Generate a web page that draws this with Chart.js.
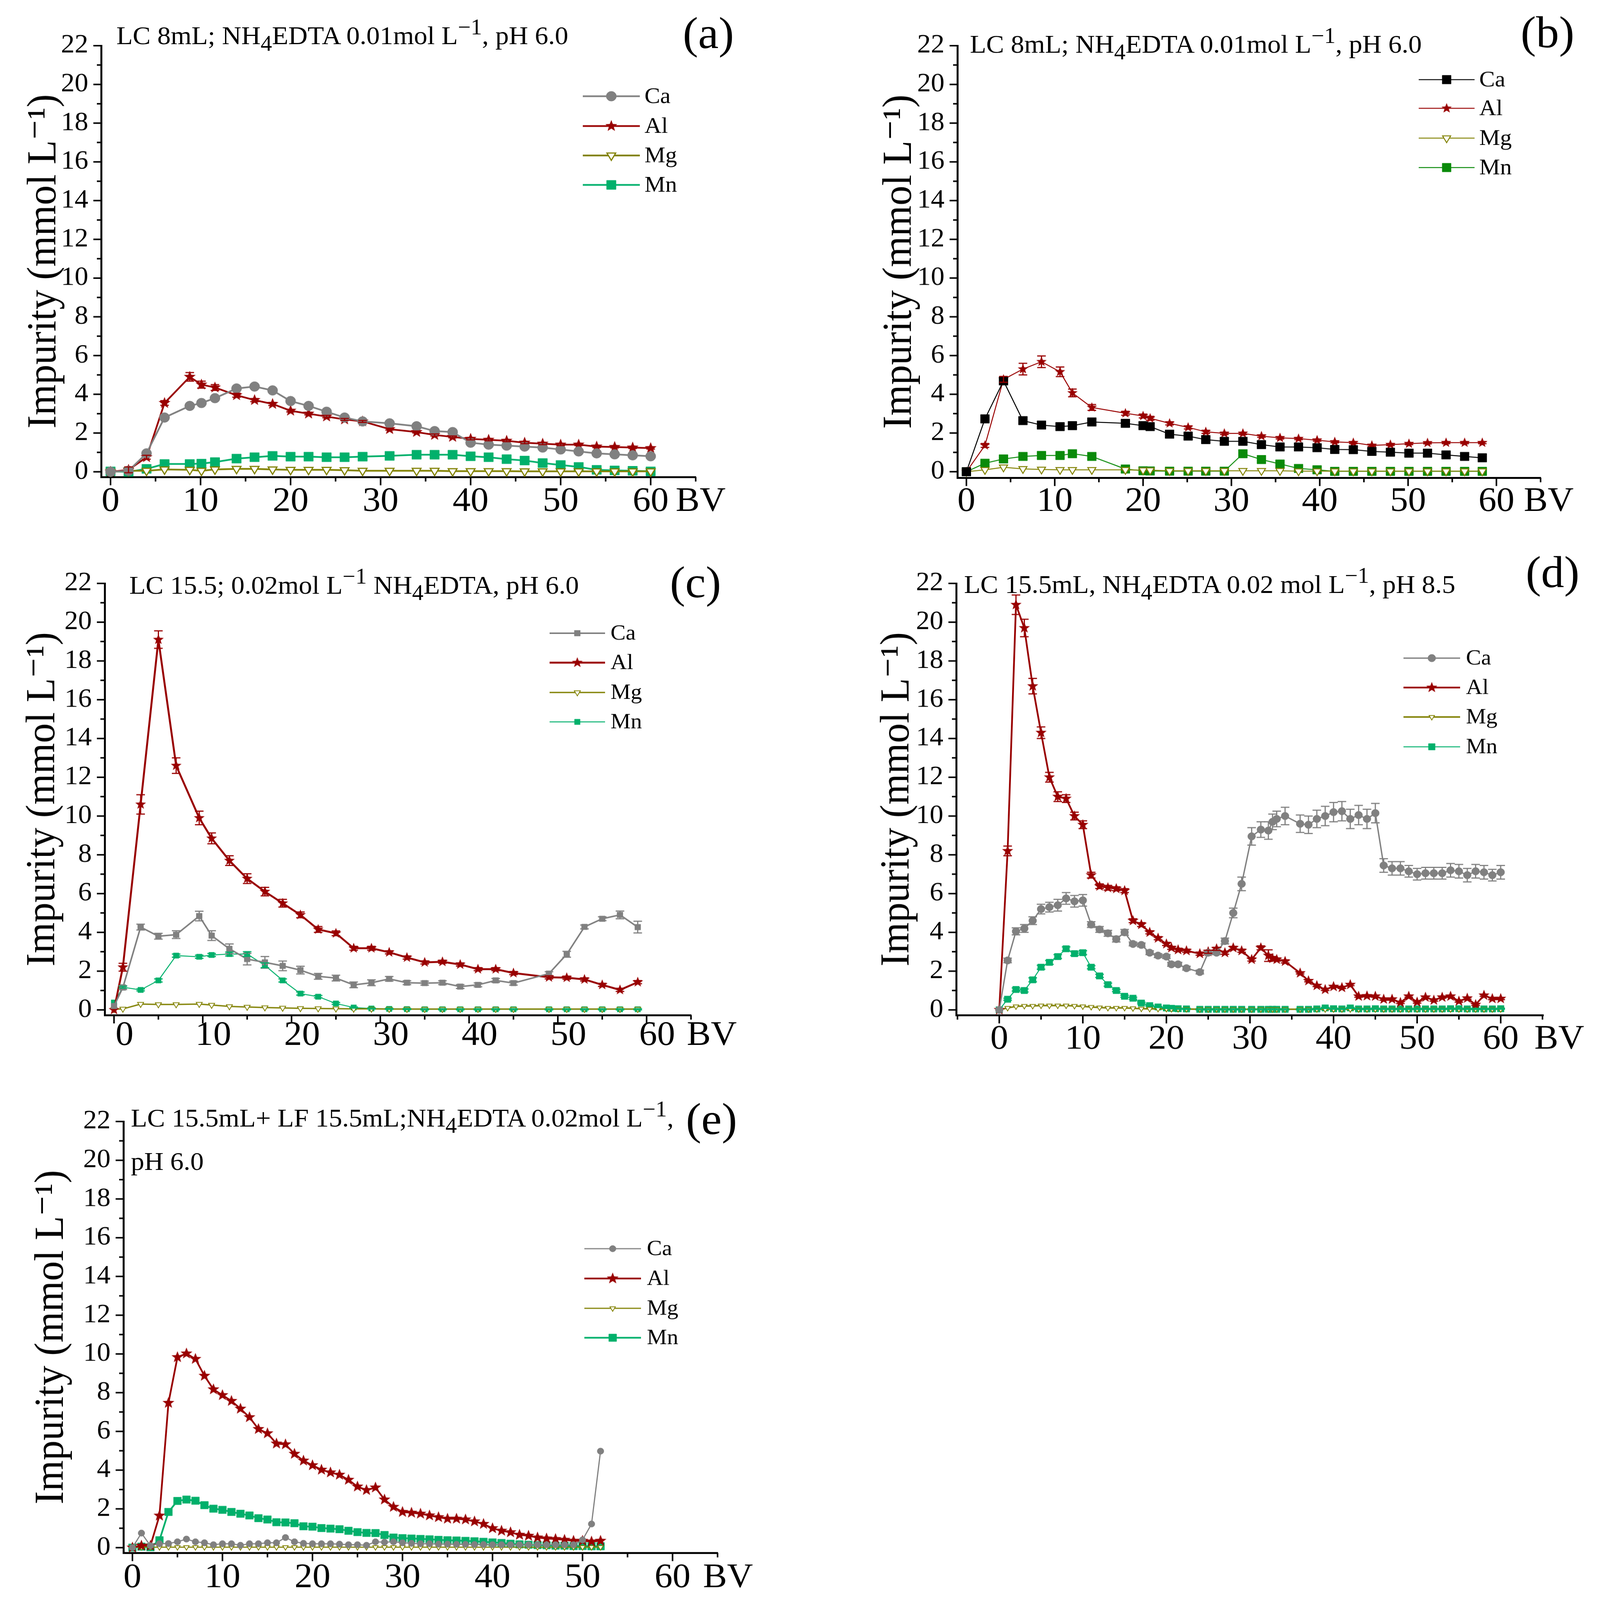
<!DOCTYPE html>
<html><head><meta charset="utf-8">
<script src="https://cdn.jsdelivr.net/npm/chart.js@4.4.1/dist/chart.umd.min.js"></script>
<style>
html,body{margin:0;padding:0;background:#fff;overflow:hidden;}
#root{width:4091px;height:4240px;position:absolute;left:0;top:0;transform-origin:0 0;font-family:'Liberation Serif','DejaVu Serif',serif;background:#fff;}
.panel{position:absolute;}
.ttl{position:absolute;white-space:nowrap;color:#000;line-height:normal;font-family:'Liberation Serif','DejaVu Serif',serif;}
.ttl sub{font-size:0.85em;line-height:0;vertical-align:-0.3em;}
.ttl sup{font-size:0.85em;line-height:0;vertical-align:0.45em;}
</style></head><body>
<div id="root">
<div class="ttl" style="left:298px;top:55px;font-size:68.5px">LC 8mL; NH<sub>4</sub>EDTA 0.01mol L<sup>−1</sup>, pH 6.0</div>
<div class="ttl" style="left:1748px;top:20px;font-size:118px">(a)</div>
<div class="ttl" style="left:2483px;top:78px;font-size:68.5px">LC 8mL; NH<sub>4</sub>EDTA 0.01mol L<sup>−1</sup>, pH 6.0</div>
<div class="ttl" style="left:3893px;top:18px;font-size:118px">(b)</div>
<div class="ttl" style="left:331px;top:1511px;font-size:68.5px">LC 15.5; 0.02mol L<sup>−1</sup> NH<sub>4</sub>EDTA, pH 6.0</div>
<div class="ttl" style="left:1715px;top:1476px;font-size:118px">(c)</div>
<div class="ttl" style="left:2468px;top:1509px;font-size:68.5px">LC 15.5mL, NH<sub>4</sub>EDTA 0.02 mol L<sup>−1</sup>, pH 8.5</div>
<div class="ttl" style="left:3906px;top:1449px;font-size:118px">(d)</div>
<div class="ttl" style="left:335px;top:2923px;font-size:68.5px">LC 15.5mL+ LF 15.5mL;NH<sub>4</sub>EDTA 0.02mol L<sup>−1</sup>,</div>
<div class="ttl" style="left:335px;top:3038px;font-size:68.5px">pH 6.0</div>
<div class="ttl" style="left:1756px;top:2898px;font-size:118px">(e)</div>
</div>
<script>
// ---------------- DATA ----------------
const ELEMENTS = ['Ca', 'Al', 'Mg', 'Mn'];
const Y_TICKS_MAX = 22;
const X_TICK_MAX = 60;

// Panel (a)
const aX  = [0,2,4,6,8.8,10.1,11.6,14,16,18,20,22,24,26,28,31,34,36,38,40,42,44,46,48,50,52,54,56,58,60];
const aCa = [0,0.05,0.95,2.8,3.4,3.55,3.8,4.3,4.4,4.2,3.65,3.4,3.1,2.8,2.6,2.5,2.35,2.1,2.05,1.5,1.4,1.35,1.3,1.25,1.15,1.05,0.95,0.9,0.85,0.8];
const aAl = [0,0.1,0.75,3.55,4.9,4.5,4.35,3.95,3.7,3.5,3.15,3.0,2.85,2.7,2.6,2.2,2.05,1.9,1.8,1.7,1.65,1.6,1.5,1.45,1.4,1.4,1.3,1.28,1.25,1.22];
const aMg = [0,0.05,0.05,0.12,0.1,0.05,0.12,0.15,0.15,0.12,0.1,0.1,0.1,0.08,0.05,0.05,0.05,0.05,0.03,0.03,0.03,0.03,0.02,0.02,0.02,0.02,0.02,0.02,0.02,0.02];
const aMn = [0.02,0,0.15,0.4,0.4,0.42,0.5,0.68,0.75,0.82,0.78,0.78,0.75,0.75,0.78,0.82,0.88,0.88,0.88,0.8,0.75,0.65,0.58,0.45,0.35,0.25,0.1,0.07,0.05,0.02];
const aAlErr = [0,0.15,0.1,0.12,0.22,0.18,0.15,0.1,0.08,0.08,0.06,0.06,0.06,0.05,0.05,0.05,0.05,0.05,0.05,0.05,0.05,0.05,0.05,0.05,0.05,0.05,0.05,0.05,0.05,0.05];

// Panel (b)
const bX  = [0,2.1,4.2,6.4,8.5,10.6,12,14.2,18,20,20.8,23,25.1,27.1,29.2,31.3,33.4,35.5,37.6,39.7,41.7,43.8,45.9,48,50.1,52.2,54.3,56.4,58.4];
const bCa = [0,2.73,4.69,2.64,2.41,2.33,2.38,2.57,2.5,2.38,2.33,1.94,1.84,1.66,1.57,1.57,1.4,1.28,1.28,1.24,1.15,1.14,1.05,1.01,0.96,0.96,0.87,0.79,0.72];
const bAl = [0,1.36,4.77,5.3,5.68,5.16,4.07,3.32,3.02,2.88,2.76,2.5,2.29,2.06,1.98,1.98,1.84,1.75,1.71,1.63,1.54,1.5,1.36,1.4,1.45,1.49,1.5,1.5,1.5];
const bMg = [0,0.1,0.23,0.15,0.12,0.1,0.1,0.1,0.1,0.08,0.08,0.05,0.05,0.05,0.05,0.05,0.05,0.05,0.03,0.03,0.03,0.03,0.03,0.03,0.03,0.03,0.03,0.03,0.03];
const bMn = [0,0.44,0.66,0.79,0.84,0.84,0.93,0.79,0.14,0.05,0.04,0.03,0.03,0.03,0.03,0.93,0.63,0.4,0.17,0.1,0.02,0.02,0.02,0.02,0.02,0.02,0.02,0.02,0.02];
const bAlErr = [0,0.1,0.15,0.3,0.3,0.25,0.2,0.15,0.1,0.1,0.1,0.08,0.08,0.08,0.06,0.06,0.06,0.06,0.05,0.05,0.05,0.05,0.05,0.05,0.05,0.05,0.05,0.05,0.05];

// Panel (c)
const cX  = [0,1,3,5,7,9.6,11,13,15,17,19,21,23,25,27,29,31,33,35,37,39,41,43,45,49,51,53,55,57,59];
const cCa = [0.2,1.15,4.27,3.8,3.88,4.84,3.83,3.15,2.62,2.45,2.27,2.05,1.73,1.64,1.29,1.4,1.6,1.4,1.38,1.4,1.2,1.29,1.52,1.38,1.87,2.87,4.28,4.7,4.9,4.27];
const cAl = [0,2.2,10.6,19.1,12.6,9.9,8.85,7.7,6.77,6.1,5.5,4.9,4.15,3.95,3.18,3.18,2.97,2.7,2.45,2.48,2.34,2.1,2.1,1.9,1.68,1.66,1.57,1.29,1.03,1.43];
const cMg = [0.03,0.05,0.3,0.28,0.28,0.3,0.25,0.18,0.15,0.12,0.1,0.08,0.07,0.06,0.05,0.05,0.04,0.04,0.04,0.04,0.04,0.04,0.04,0.04,0.04,0.04,0.04,0.04,0.04,0.04];
const cMn = [0.38,1.17,1.03,1.52,2.8,2.74,2.83,2.88,2.88,2.3,1.52,0.84,0.68,0.33,0.12,0.07,0.05,0.04,0.03,0.03,0.03,0.03,0.03,0.03,0.03,0.03,0.03,0.03,0.03,0.03];
const cCaErr = [0,0.1,0.15,0.15,0.2,0.25,0.25,0.25,0.3,0.3,0.25,0.2,0.15,0.15,0.15,0.15,0.12,0.1,0.1,0.1,0.1,0.1,0.1,0.1,0.1,0.15,0.1,0.1,0.2,0.3];
const cAlErr = [0,0.2,0.5,0.45,0.4,0.35,0.28,0.25,0.25,0.22,0.2,0.15,0.15,0.12,0.1,0.1,0.08,0.08,0.08,0.08,0.08,0.08,0.08,0.08,0.08,0.08,0.08,0.08,0.08,0.08];
const cMnErr = [0,0.05,0.05,0.08,0.08,0.08,0.08,0.1,0.12,0.12,0.08,0.08,0.06,0.05,0.03,0.03,0.03,0.03,0.03,0.03,0.03,0.03,0.03,0.03,0.03,0.03,0.03,0.03,0.03,0.03];

// Panel (d)
const dX  = [0,1,2,3,4,5,6,7,8,9,10,11,12,13,14,15,16,17,18,19,20,20.6,21.4,22.4,24,25,26,27,28,29,30.2,31.3,32.2,32.7,33.2,34.2,36,37,38,39,40,41,42,43,44,45,46,47,48,49,50,51,52,53,54,55,56,57,58,59,60];
const dCa = [0,2.55,4.05,4.2,4.6,5.2,5.3,5.4,5.75,5.6,5.65, 4.4,4.15,3.95,3.65,4.0,3.4,3.35,2.95,2.8,2.75, 2.35,2.35,2.15, 1.95,2.95,2.95,3.55,5.0,6.5, 8.95,9.3,9.25,9.7,9.85,10.0, 9.6,9.55,9.85,10.0,10.2,10.25,9.85,10.05,9.85,10.15, 7.45,7.3,7.3,7.15,7.0,7.05,7.05,7.05,7.2,7.15,6.95,7.15,7.1,6.95,7.1];
const dAl = [0,8.2,20.9,19.7,16.7,14.3,12.0,11.0,10.9,10.0,9.55, 6.95,6.38,6.3,6.25,6.15,4.6,4.4,4.0,3.7,3.4, 3.2,3.1,3.05, 2.9,3.0,3.15,2.95,3.2,3.05, 2.6,3.2,2.8,2.65,2.6,2.5, 1.9,1.5,1.25,1.05,1.2,1.15,1.3,0.7,0.72,0.7,0.55,0.55,0.38,0.7,0.4,0.65,0.5,0.65,0.7,0.45,0.6,0.27,0.75,0.58,0.58];
const dMg = [0,0.1,0.18,0.2,0.2,0.22,0.22,0.22,0.22,0.2,0.18, 0.15,0.12,0.1,0.1,0.1,0.08,0.06,0.05,0.05,0.05, 0.04,0.04,0.04, 0.03,0.03,0.03,0.03,0.03,0.03, 0.03,0.03,0.03,0.03,0.03,0.03, 0.03,0.03,0.03,0.03,0.03,0.03,0.03,0.03,0.03,0.03,0.03,0.03,0.03,0.03,0.03,0.03,0.03,0.03,0.03,0.03,0.03,0.03,0.03,0.03,0.03];
const dMn = [0,0.55,1.05,1.0,1.55,2.2,2.45,2.75,3.15,2.9,2.95, 2.2,1.75,1.3,1.0,0.7,0.6,0.35,0.22,0.15,0.1, 0.08,0.06,0.05, 0.03,0.03,0.03,0.03,0.03,0.03, 0.03,0.03,0.03,0.03,0.03,0.03, 0.03,0.03,0.05,0.1,0.06,0.05,0.1,0.05,0.05,0.06,0.05,0.05,0.05,0.05,0.05,0.05,0.05,0.05,0.06,0.06,0.05,0.05,0.05,0.05,0.06];
const dCaErr = [0,0.12,0.18,0.2,0.2,0.25,0.25,0.3,0.3,0.3,0.3, 0.15,0.15,0.15,0.15,0.15,0.1,0.1,0.1,0.1,0.1, 0.1,0.1,0.1, 0.1,0.1,0.1,0.15,0.25,0.35, 0.45,0.4,0.45,0.4,0.4,0.45, 0.45,0.45,0.45,0.5,0.5,0.5,0.5,0.5,0.5,0.5, 0.35,0.35,0.35,0.3,0.3,0.3,0.3,0.3,0.35,0.35,0.35,0.35,0.35,0.3,0.35];
const dAlErr = [0,0.25,0.5,0.45,0.4,0.3,0.25,0.25,0.2,0.2,0.2, 0.15,0.12,0.12,0.1,0.1,0.1,0.1,0.08,0.08,0.08, 0.08,0.08,0.08, 0.08,0.08,0.08,0.08,0.08,0.08, 0.08,0.1,0.3,0.1,0.08,0.08, 0.05,0.05,0.05,0.05,0.05,0.05,0.05,0.05,0.05,0.05,0.05,0.05,0.05,0.05,0.05,0.05,0.05,0.05,0.05,0.05,0.05,0.05,0.05,0.05,0.05];
const dMnErr = [0,0.05,0.08,0.08,0.1,0.1,0.1,0.1,0.1,0.1,0.1, 0.08,0.08,0.08,0.06,0.05,0.05,0.04,0.03,0.03,0.03, 0.03,0.03,0.03, 0.03,0.03,0.03,0.03,0.03,0.03, 0.03,0.03,0.03,0.03,0.03,0.03, 0.03,0.03,0.03,0.03,0.03,0.03,0.03,0.03,0.03,0.03,0.03,0.03,0.03,0.03,0.03,0.03,0.03,0.03,0.03,0.03,0.03,0.03,0.03,0.03,0.03];

// Panel (e)
const eX  = [0,1,2,3,4,5,6,7,8,9,10,11,12,13,14,15,16,17,18,19,20,21,22,23,24,25,26,27,28,29,30,31,32,33,34,35,36,37,38,39,40,41,42,43,44,45,46,47,48,49,50,51,52];
const eCa = [0,0.75,0.1,0.2,0.21,0.3,0.44,0.3,0.25,0.15, 0.2,0.2,0.12,0.2,0.2,0.25,0.25,0.52,0.3,0.22, 0.2,0.2,0.2,0.18,0.15,0.15,0.12,0.3,0.28,0.3, 0.25,0.22,0.2,0.2,0.18,0.18,0.17,0.17,0.16,0.16, 0.15,0.15,0.15,0.15,0.15,0.15,0.15,0.15,0.15,0.15, 0.4,1.22,4.98];
const eAl = [0,0.1,0.1,1.65,7.47,9.83,10.02,9.74,8.87,8.17, 7.87,7.57,7.17,6.73,6.12,5.9,5.37,5.33,4.84,4.49, 4.25,4.02,3.88,3.76,3.5,3.15,2.97,3.1,2.48,2.1, 1.84,1.8,1.75,1.66,1.57,1.49,1.49,1.45,1.35,1.22, 1.0,0.87,0.79,0.66,0.61,0.52,0.47,0.44,0.4,0.35, 0.35,0.31,0.35];
const eMg = [0.02,0.02,0.02,0.02,0.02,0.02,0.02,0.02,0.02,0.02, 0.02,0.02,0.02,0.02,0.02,0.02,0.02,0.02,0.02,0.02, 0.02,0.02,0.02,0.02,0.02,0.02,0.02,0.02,0.02,0.02, 0.02,0.02,0.02,0.02,0.02,0.02,0.02,0.02,0.02,0.02, 0.02,0.02,0.02,0.02,0.02,0.02,0.02,0.02,0.02,0.02, 0.02,0.02,0.02];
const eMn = [0,0.05,0.02,0.38,1.84,2.41,2.48,2.42,2.19,2.01, 1.95,1.84,1.75,1.66,1.52,1.45,1.31,1.3,1.26,1.1, 1.08,1.01,0.98,0.95,0.87,0.8,0.76,0.75,0.65,0.52, 0.49,0.47,0.45,0.43,0.4,0.38,0.37,0.35,0.33,0.3, 0.27,0.24,0.2,0.17,0.15,0.13,0.12,0.1,0.1,0.08, 0.08,0.07,0.07];

// ---------------- PAGE SCALE (fit the 4091x4240 layout into the actual viewport) ----------------
const PAGE_W = 4091, PAGE_H = 4240;
const root = document.getElementById('root');
const kx = (window.innerWidth || PAGE_W) / PAGE_W, ky = (window.innerHeight || PAGE_H) / PAGE_H;
root.style.transform = `scale(${kx}, ${ky})`;

// ---------------- STYLE ----------------
const FONT = "'Liberation Serif', 'DejaVu Serif', serif";
const C_GRAY = '#808080', C_BLACK = '#000000', C_RED = '#990000', C_OLIVE = '#808000', C_MN = '#00B06B', C_MN_B = '#0A8A0A';

function starImage(color, r) {
  const c = document.createElement('canvas');
  const s = Math.ceil(2 * r + 4);
  c.width = s; c.height = s;
  const g = c.getContext('2d');
  g.fillStyle = color;
  g.beginPath();
  for (let k = 0; k < 10; k++) {
    const rr = k % 2 === 0 ? r : r * 0.42;
    const ang = -Math.PI / 2 + k * Math.PI / 5;
    const px = s / 2 + rr * Math.cos(ang), py = s / 2 + rr * Math.sin(ang);
    if (k === 0) g.moveTo(px, py); else g.lineTo(px, py);
  }
  g.closePath(); g.fill();
  return c;
}

const panels = [
  { id: 'a', left: 0, top: 0, w: 2045, h: 1400, pad: {left: 0, top: 121, right: 264, bottom: 0}, yw: 259, xh: 136,
    xmin: -1.04, xmax: 65, ymin: -0.27, xpad: 11, labelOffset: 0, ytPad: 51, bvOff: 64,
    legend: {x0: 1492, x1: 1638, tx: 1650, rows: [255, 334, 412, 490], size: 60},
    x: aX, series: [aCa, aAl, aMg, aMn], errs: [null, aAlErr, null, null],
    styles: [{color: C_GRAY, lw: 4.5, ps: 'circle', r: 13}, {color: C_RED, lw: 4.5, star: 16},
             {color: C_OLIVE, lw: 4.5, ps: 'triangle', r: 13, rot: 180, fill: '#ffffff', pbw: 3}, {color: C_MN, lw: 4.5, ps: 'rect', r: 17}] },
  { id: 'b', left: 2100, top: 0, w: 1991, h: 1400, pad: {left: 0, top: 121, right: 147, bottom: 0}, yw: 351, xh: 134,
    xmin: -1.02, xmax: 65, ymin: -0.31, xpad: 9, labelOffset: 0, ytPad: 141, bvOff: 70,
    legend: {x0: 3632, x1: 3775, tx: 3787, rows: [211, 287, 366, 444], size: 60},
    x: bX, series: [bCa, bAl, bMg, bMn], errs: [null, bAlErr, null, null],
    styles: [{color: C_BLACK, lw: 2.5, ps: 'rect', r: 16}, {color: C_RED, lw: 2.5, star: 14},
             {color: C_OLIVE, lw: 2.5, ps: 'triangle', r: 12, rot: 180, fill: '#ffffff', pbw: 2.5}, {color: C_MN_B, lw: 2.5, ps: 'rect', r: 16}] },
  { id: 'c', left: 0, top: 1400, w: 2045, h: 1400, pad: {left: 0, top: 146, right: 276, bottom: 0}, yw: 268, xh: 110,
    xmin: -1.05, xmax: 65, ymin: -0.27, xpad: 0, labelOffset: 27, ytPad: 48, bvOff: 103,
    legend: {x0: 1407, x1: 1549, tx: 1563, rows: [1678, 1756, 1835, 1913], size: 58},
    x: cX, series: [cCa, cAl, cMg, cMn], errs: [cCaErr, cAlErr, null, cMnErr],
    styles: [{color: C_GRAY, lw: 4, ps: 'rect', r: 10.5}, {color: C_RED, lw: 5, star: 14.5},
             {color: C_OLIVE, lw: 3.5, ps: 'triangle', r: 9, rot: 180, fill: '#ffffff', pbw: 2}, {color: C_MN, lw: 2.5, ps: 'rect', r: 10}] },
  { id: 'd', left: 2100, top: 1400, w: 1991, h: 1400, pad: {left: 0, top: 146, right: 140, bottom: 0}, yw: 348, xh: 110,
    xmin: -5.15, xmax: 65.1, ymin: -0.27, xpad: 10, labelOffset: 0, ytPad: 135, bvOff: 86,
    legend: {x0: 3593, x1: 3738, tx: 3753, rows: [1744, 1822, 1900, 1979], size: 58},
    x: dX, series: [dCa, dAl, dMg, dMn], errs: [dCaErr, dAlErr, null, dMnErr],
    styles: [{color: C_GRAY, lw: 3.5, ps: 'circle', r: 10}, {color: C_RED, lw: 4.5, star: 15},
             {color: C_OLIVE, lw: 4, ps: 'triangle', r: 8, rot: 180, fill: '#ffffff', pbw: 2}, {color: C_MN, lw: 2.5, ps: 'rect', r: 12}] },
  { id: 'e', left: 0, top: 2840, w: 2045, h: 1400, pad: {left: 0, top: 132, right: 208, bottom: 0}, yw: 316, xh: 125,
    xmin: -1.0, xmax: 65, ymin: -0.27, xpad: 12, labelOffset: 0, ytPad: 70, bvOff: 78,
    legend: {x0: 1496, x1: 1641, tx: 1656, rows: [3309, 3388, 3467, 3545], size: 58},
    x: eX, series: [eCa, eAl, eMg, eMn], errs: [null, null, null, null],
    styles: [{color: C_GRAY, lw: 3, ps: 'circle', r: 8.5}, {color: C_RED, lw: 4.5, star: 16},
             {color: C_OLIVE, lw: 3, ps: 'triangle', r: 8, rot: 180, fill: '#ffffff', pbw: 2}, {color: C_MN, lw: 4.5, ps: 'rect', r: 14}] }
];

function decorPlugin(p) {
  return {
    id: 'decor_' + p.id,
    afterDatasetsDraw(chart) {
      const ctx = chart.ctx, xs = chart.scales.x, ys = chart.scales.y;
      chart.data.datasets.forEach(d => {
        if (!d.errs) return;
        ctx.save();
        ctx.strokeStyle = d.borderColor; ctx.lineWidth = 3;
        const cap = 11;
        d.data.forEach((pt, k) => {
          const e = d.errs[k];
          if (!e) return;
          const px = xs.getPixelForValue(pt.x);
          const y1 = ys.getPixelForValue(pt.y + e), y2 = ys.getPixelForValue(pt.y - e);
          ctx.beginPath();
          ctx.moveTo(px, y1); ctx.lineTo(px, y2);
          ctx.moveTo(px - cap, y1); ctx.lineTo(px + cap, y1);
          ctx.moveTo(px - cap, y2); ctx.lineTo(px + cap, y2);
          ctx.stroke();
        });
        ctx.restore();
      });
    },
    afterDraw(chart) {
      const ctx = chart.ctx, xs = chart.scales.x, ys = chart.scales.y, ca = chart.chartArea;
      ctx.save();
      ctx.strokeStyle = '#000'; ctx.lineWidth = 4;
      ctx.beginPath();
      for (let v = 0; v <= Y_TICKS_MAX; v++) {
        const py = ys.getPixelForValue(v);
        const len = v % 2 === 0 ? 20 : 11;
        ctx.moveTo(ca.left - len, py); ctx.lineTo(ca.left, py);
      }
      for (let v = Math.ceil(xs.min / 5) * 5; v <= xs.max + 0.01; v += 5) {
        const px = xs.getPixelForValue(v);
        const len = v % 10 === 0 ? 22 : 12;
        ctx.moveTo(px, ca.bottom); ctx.lineTo(px, ca.bottom + len);
      }
      ctx.stroke();
      ctx.fillStyle = '#000';
      ctx.font = '92px ' + FONT;
      ctx.textAlign = 'left'; ctx.textBaseline = 'middle';
      ctx.fillText('BV', xs.getPixelForValue(X_TICK_MAX) + p.bvOff, ca.bottom + p.xpad + 55);
      const L = p.legend;
      chart.data.datasets.forEach((d, i) => {
        const st = p.styles[i];
        const y = L.rows[i] - p.top;
        const x0 = L.x0 - p.left, x1 = L.x1 - p.left;
        ctx.strokeStyle = st.color; ctx.lineWidth = st.lw;
        ctx.beginPath(); ctx.moveTo(x0, y); ctx.lineTo(x1, y); ctx.stroke();
        ctx.fillStyle = st.fill || st.color; ctx.strokeStyle = st.color; ctx.lineWidth = st.pbw || 1;
        Chart.helpers.drawPoint(ctx, {pointStyle: d.pointStyle, radius: st.star || st.r, rotation: st.rot || 0, borderWidth: st.pbw || 1}, (x0 + x1) / 2, y);
        ctx.fillStyle = '#000';
        ctx.font = L.size + 'px ' + FONT;
        ctx.textAlign = 'left'; ctx.textBaseline = 'middle';
        ctx.fillText(d.label, L.tx - p.left, y + 2);
      });
      ctx.restore();
    }
  };
}

function makeChart(p) {
  const wrap = document.createElement('div');
  wrap.className = 'panel';
  wrap.style.cssText = `left:${p.left}px;top:${p.top}px;width:${p.w}px;height:${p.h}px;`;
  const cv = document.createElement('canvas');
  wrap.appendChild(cv);
  root.appendChild(wrap);
  const datasets = p.series.map((ys, i) => {
    const st = p.styles[i];
    const ps = st.star ? starImage(st.color, st.star) : st.ps;
    return {
      label: ELEMENTS[i],
      data: p.x.map((x, k) => ({x: x, y: ys[k]})),
      borderColor: st.color,
      backgroundColor: st.fill || st.color,
      borderWidth: st.lw,
      pointStyle: ps,
      pointRadius: st.star || st.r,
      pointHoverRadius: st.star || st.r,
      pointRotation: st.rot || 0,
      pointBorderWidth: st.pbw || 1,
      pointBorderColor: st.color,
      pointBackgroundColor: st.fill || st.color,
      tension: 0,
      fill: false,
      errs: p.errs[i]
    };
  });
  new Chart(cv, {
    type: 'line',
    data: {datasets},
    options: {
      responsive: true, maintainAspectRatio: false,
      animation: false, events: [],
      layout: {padding: p.pad},
      plugins: {legend: {display: false}, tooltip: {enabled: false}, title: {display: false}},
      scales: {
        x: {
          type: 'linear', min: p.xmin, max: p.xmax,
          ticks: {stepSize: 10, includeBounds: false, autoSkip: false, maxRotation: 0, minRotation: 0, maxTicksLimit: 100,
                  padding: p.xpad, labelOffset: p.labelOffset, color: '#000', font: {family: FONT, size: 92}},
          grid: {display: false, drawTicks: false, drawOnChartArea: false},
          border: {display: true, color: '#000', width: 5},
          afterFit: s => { s.height = p.xh; }
        },
        y: {
          type: 'linear', min: p.ymin, max: Y_TICKS_MAX,
          ticks: {stepSize: 2, includeBounds: false, autoSkip: false, maxTicksLimit: 100,
                  padding: 33, color: '#000', font: {family: FONT, size: 70}},
          grid: {display: false, drawTicks: false, drawOnChartArea: false},
          border: {display: true, color: '#000', width: 5},
          title: {display: true, text: 'Impurity (mmol L⁻¹)', color: '#000', font: {family: FONT, size: 105},
                  padding: {top: p.ytPad, bottom: 0}},
          afterFit: s => { s.width = p.yw; }
        }
      }
    },
    plugins: [decorPlugin(p)]
  });
}

panels.forEach(makeChart);
</script>
</body></html>
